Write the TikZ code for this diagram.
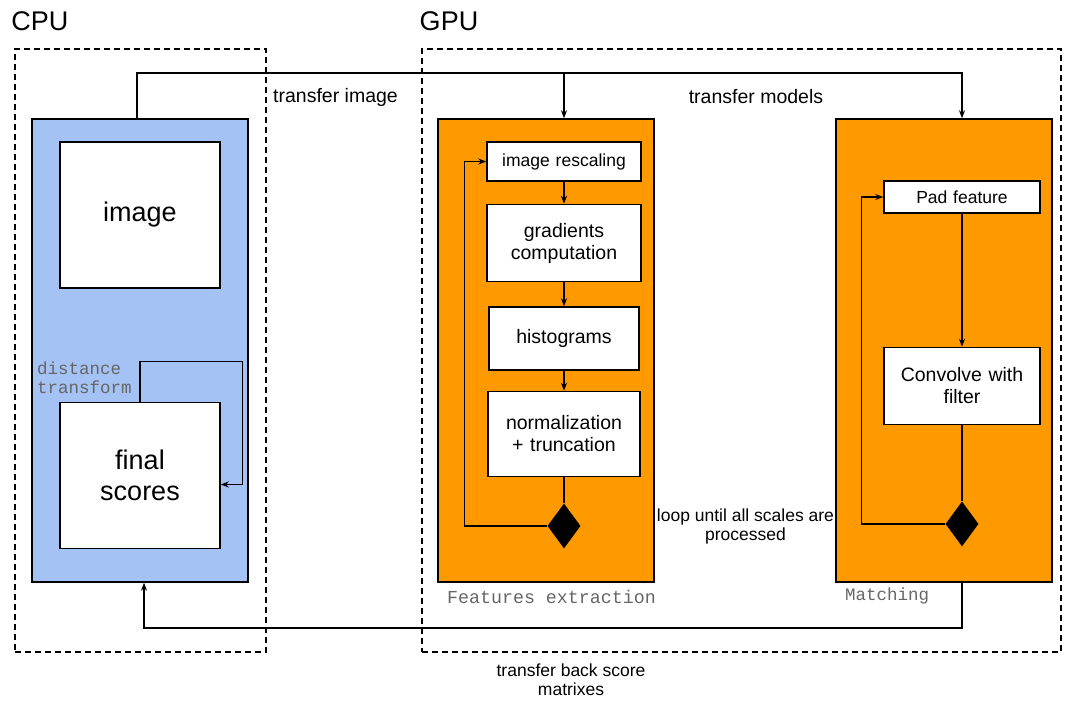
\documentclass[tikz,border=0pt]{standalone}
\usepackage{fontspec}
\setmainfont{Liberation Sans}
\setmonofont{Liberation Mono}
\usetikzlibrary{shapes.geometric, arrows.meta, positioning}
\definecolor{cpublue}{HTML}{A4C2F4}
\definecolor{gpuorange}{HTML}{FF9900}
\tikzstyle{device} = [
  rectangle,
  draw=black,
  line width=1.2pt,
  dash pattern=on 6pt off 4pt,
  inner sep=0
]
\tikzstyle{cpubox} = [
  rectangle,
  minimum width=216pt,
  minimum height=463pt,
  draw=black,
  line width=1.5pt,
  inner sep=0,
  fill=cpublue
]
\tikzstyle{gpubox} = [
  cpubox,
  fill=gpuorange
]
\tikzstyle{bigstep} = [
  rectangle,
  minimum width=160pt,
  minimum height=146pt,
  text centered,
  text width=150pt,
  draw=black,
  line width=1.5pt,
  inner sep=0,
  fill=white,
  font=\fontsize{27}{31}\selectfont
]
\tikzstyle{process} = [
  rectangle,
  minimum width=154pt,
  text centered,
  text width=150pt,
  draw=black,
  line width=1.5pt,
  inner sep=0,
  fill=white,
  font=\fontsize{19.5}{22}\selectfont
]
\tikzstyle{decision} = [
  diamond,
  minimum width=33pt,
  minimum height=45pt,
  inner sep=0,
  fill=black
]
\tikzstyle{note} = [
  align=center,
  inner sep=0,
  font=\fontsize{17.5}{19}\selectfont
]
\tikzstyle{monotag} = [
  align=left,
  inner sep=0,
  text=black!60,
  font=\ttfamily\fontsize{17.5}{19}\selectfont
]
\tikzstyle{line} = [
  line width=1.3pt
]
\tikzstyle{arrow} = [
  line width=1.3pt,
  -{Stealth[length=8pt,width=6pt]}
]

\begin{document}
\begin{tikzpicture}[x=1pt, y=-1pt]
      \useasboundingbox (0,0) rectangle (1077,702);

      % devices
      \node [device, minimum width=251pt, minimum height=603pt] (cpu) at (140.5,350.5) {};
      \node [device, minimum width=639pt, minimum height=603pt] (gpu) at (741.5,350.5) {};
      \node [font=\fontsize{27}{31}\selectfont, inner sep=0] (cputitle) at (40,21) {CPU};
      \node [font=\fontsize{27}{31}\selectfont, inner sep=0] (gputitle) at (449,21) {GPU};

      % CPU side
      \node [cpubox] (blue) at (140,350.5) {};
      \node [bigstep] (image) at (140,215) {image};
      \node [bigstep, below=113pt of image] (final) {final\\scores};
      \node [monotag, anchor=west] (dtlabel) at (37,377.5) {distance\\transform};

      % features extraction
      \node [gpubox] (feat) at (546,350.5) {};
      \node [process, minimum height=39pt, font=\fontsize{17.5}{20}\selectfont] (rescale) at (564,161.5) {image rescaling};
      \node [process, minimum height=77pt, below=22pt of rescale] (grad) {gradients\\computation};
      \node [process, minimum height=63pt, minimum width=150pt, below=24pt of grad] (hist) {histograms};
      \node [process, minimum height=85pt, minimum width=152pt, below=20pt of hist] (norm) {normalization\\+ truncation};
      \node [decision, below=26pt of norm] (fdiam) {};
      \node [monotag, font=\ttfamily\fontsize{18.3}{20}\selectfont] (featlabel) at (551.5,597) {Features extraction};

      % matching
      \node [gpubox] (match) at (944,350.5) {};
      \node [process, minimum width=156pt, minimum height=32pt, font=\fontsize{17.5}{20}\selectfont] (pad) at (962,197) {Pad feature};
      \node [process, minimum width=156pt, minimum height=77pt, below=133pt of pad] (conv) {Convolve with\\filter};
      \node [decision, below=76pt of conv] (mdiam) {};
      \node [monotag] (matchlabel) at (887,596) {Matching};

      % texts
      \node [note, font=\fontsize{19.5}{22}\selectfont] (timage) at (335.5,97) {transfer image};
      \node [note, font=\fontsize{19.5}{22}\selectfont] (tmodels) at (756,97) {transfer models};
      \node [note] (loopnote) at (745.5,526.5) {loop until all scales are\\processed};
      \node [note] (tback) at (571,679.5) {transfer back score\\matrixes};

      \coordinate (bus) at (0,73);
      \coordinate (back) at (0,628);

      \draw [arrow] ([xshift=-3pt]blue.north) |- (bus -| pad) -- (pad |- match.north);
      \draw [arrow] (bus -| rescale) -- (rescale |- feat.north);
      \draw [arrow] (pad |- match.south) |- ([xshift=4pt]back -| blue) -- ([xshift=4pt]blue.south);

      \draw [arrow] (final.north) -- ++(0,-40) -| ([xshift=22pt,yshift=-9pt]final.east) -- ([yshift=-9pt]final.east);

      \draw [arrow] (rescale) -- (grad);
      \draw [arrow] (grad) -- (hist);
      \draw [arrow] (hist) -- (norm);
      \draw [line] (norm) -- (fdiam);
      \draw [arrow] (fdiam.west) -| ([xshift=-22pt]rescale.west) -- (rescale.west);

      \draw [arrow] (pad) -- (conv);
      \draw [line] (conv) -- (mdiam);
      \draw [arrow] (mdiam.west) -| ([xshift=-22pt]pad.west) -- (pad.west);

    \end{tikzpicture}
\end{document}
